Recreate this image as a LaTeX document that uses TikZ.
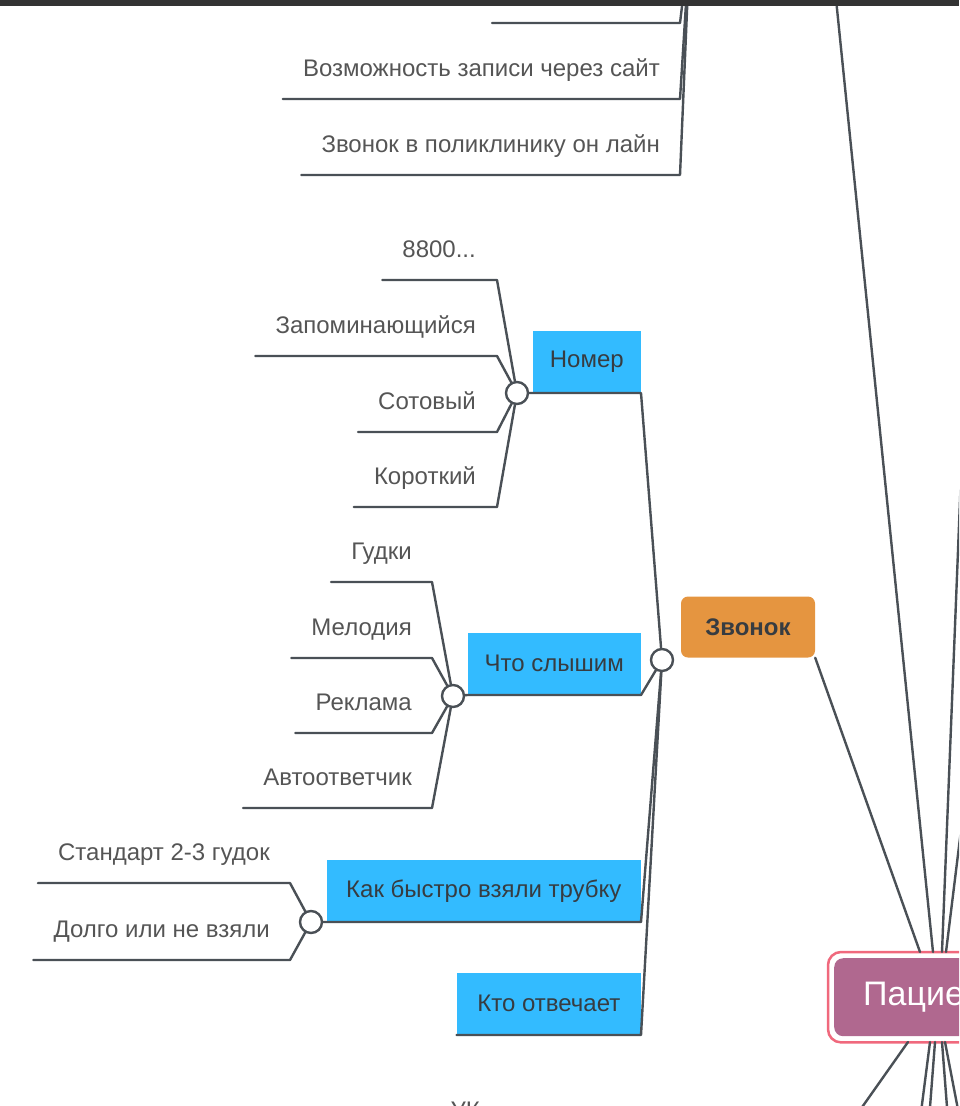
\documentclass[tikz,border=0pt]{standalone}
\usepackage{fontspec}
\setmainfont{Liberation Sans}
\usetikzlibrary{positioning, calc}

\definecolor{linegray}{RGB}{74,80,86}
\definecolor{leafgray}{RGB}{85,85,85}
\definecolor{boxtext}{RGB}{55,60,65}
\definecolor{skyblue}{RGB}{51,187,255}
\definecolor{callorange}{RGB}{229,149,64}
\definecolor{patfill}{RGB}{176,104,143}
\definecolor{patring}{RGB}{240,105,125}
\definecolor{topbar}{RGB}{51,51,51}

\tikzset{
	leaf/.style={anchor=base east, inner sep=0pt, text=leafgray, font=\fontsize{24}{27}\selectfont},
	topic/.style={anchor=south east, fill=skyblue, text=boxtext, minimum height=62pt, inner sep=0pt, font=\fontsize{24}{27}\selectfont},
	knob/.style={circle, draw=linegray, fill=white, line width=2.4pt, minimum size=22pt, inner sep=0pt},
	link/.style={draw=linegray, line width=2.4pt, line cap=round, line join=round},
}

\begin{document}
\begin{tikzpicture}[x=1pt, y=-1pt]
		\useasboundingbox (0,0) rectangle (959,1106);
		\clip (0,0) rectangle (959,1106);
		\coordinate (up) at (690,-60);
		\coordinate (t0s) at (492,23);
		\coordinate (t0e) at (680,23);
		\node[leaf] (t1) at (660,76) {Возможность записи через сайт};
		\node[leaf] (t2) at (660,152) {Звонок в поликлинику он лайн};
		\draw[link] (t0s) -- (t0e) -- (up);
		\draw[link] ([shift={(-20,23)}]t1.base west) -- ([shift={(20,23)}]t1.base east) -- (up);
		\draw[link] ([shift={(-20,23)}]t2.base west) -- ([shift={(20,23)}]t2.base east) -- (up);

		\node[knob] (k0) at (662,660) {};
		\node[knob] (k1) at (517,393) {};
		\node[knob] (k2) at (453,696) {};
		\node[knob] (k3) at (311,922) {};

		\node[topic, minimum width=108pt] (nomer) at (641,393) {Номер};
		\node[topic, minimum width=173pt] (hear) at (641,695) {Что слышим};
		\node[topic, minimum width=314pt] (pickup) at (641,922) {Как быстро взяли трубку};
		\node[topic, minimum width=184pt] (answer) at (641,1035) {Кто отвечает};
		\draw[link] (k1) -- (nomer.south west) -- (nomer.south east) -- (k0);
		\draw[link] (k2) -- (hear.south west) -- (hear.south east) -- (k0);
		\draw[link] (k3) -- (pickup.south west) -- (pickup.south east) -- (k0);
		\draw[link] (answer.south west) -- (answer.south east) -- (k0);

		\node[leaf] (a1) at (476,257) {8800...};
		\node[leaf] (a2) at (476,333) {Запоминающийся};
		\node[leaf] (a3) at (476,409) {Сотовый};
		\node[leaf] (a4) at (476,484) {Короткий};
		\draw[link] ([shift={(-20,23)}]a1.base west) -- ([shift={(21,23)}]a1.base east) -- (k1);
		\draw[link] ([shift={(-20,23)}]a2.base west) -- ([shift={(21,23)}]a2.base east) -- (k1);
		\draw[link] ([shift={(-20,23)}]a3.base west) -- ([shift={(21,23)}]a3.base east) -- (k1);
		\draw[link] ([shift={(-20,23)}]a4.base west) -- ([shift={(21,23)}]a4.base east) -- (k1);

		\node[leaf] (b1) at (412,559) {Гудки};
		\node[leaf] (b2) at (412,635) {Мелодия};
		\node[leaf] (b3) at (412,710) {Реклама};
		\node[leaf] (b4) at (412,785) {Автоответчик};
		\draw[link] ([shift={(-20,23)}]b1.base west) -- ([shift={(20,23)}]b1.base east) -- (k2);
		\draw[link] ([shift={(-20,23)}]b2.base west) -- ([shift={(20,23)}]b2.base east) -- (k2);
		\draw[link] ([shift={(-20,23)}]b3.base west) -- ([shift={(20,23)}]b3.base east) -- (k2);
		\draw[link] ([shift={(-20,23)}]b4.base west) -- ([shift={(20,23)}]b4.base east) -- (k2);

		\node[leaf] (c1) at (270,860) {Стандарт 2-3 гудок};
		\node[leaf] (c2) at (270,937) {Долго или не взяли};
		\draw[link] ([shift={(-20,23)}]c1.base west) -- ([shift={(20,23)}]c1.base east) -- (k3);
		\draw[link] ([shift={(-20,23)}]c2.base west) -- ([shift={(20,23)}]c2.base east) -- (k3);

		\node[leaf] (uk) at (480,1118) {УК};

		\node[rounded corners=7pt, fill=callorange, text=boxtext, minimum width=134pt, minimum height=61pt, font=\bfseries\fontsize{24}{27}\selectfont] (call) at (748,627) {Звонок};
		\node[anchor=north west, fill=patfill, rounded corners=9pt, minimum height=78pt, inner xsep=29pt, inner ysep=0pt, text=white, font=\fontsize{34}{40}\selectfont] (patient) at (834,958) {Пациент};
		\draw[patring, line width=2.5pt, rounded corners=13pt] ([shift={(-6,-6)}]patient.north west) rectangle ([shift={(6,6)}]patient.south east);

		\coordinate (p1) at (920,952);
		\coordinate (p2) at (933,952);
		\coordinate (p3) at (942,952);
		\coordinate (p4) at (946,952);
		\coordinate (far1) at (830,-60);
		\coordinate (far2) at (968,300);
		\coordinate (far3) at (977,700);
		\draw[link] (call.south east) -- (p1);
		\draw[link] (far1) -- (p2);
		\draw[link] (far2) -- (p3);
		\draw[link] (far3) -- (p4);

		\coordinate (q1) at (908,1042);
		\coordinate (q2) at (930,1042);
		\coordinate (q3) at (935,1042);
		\coordinate (q4) at (942,1042);
		\coordinate (q5) at (945,1042);
		\draw[link] (q1) -- (853,1120);
		\draw[link] (q2) -- (920,1120);
		\draw[link] (q3) -- (929,1120);
		\draw[link] (q4) -- (948,1120);
		\draw[link] (q5) -- (960,1120);

		\fill[topbar] (0,0) rectangle (959,6);
\end{tikzpicture}
\end{document}
